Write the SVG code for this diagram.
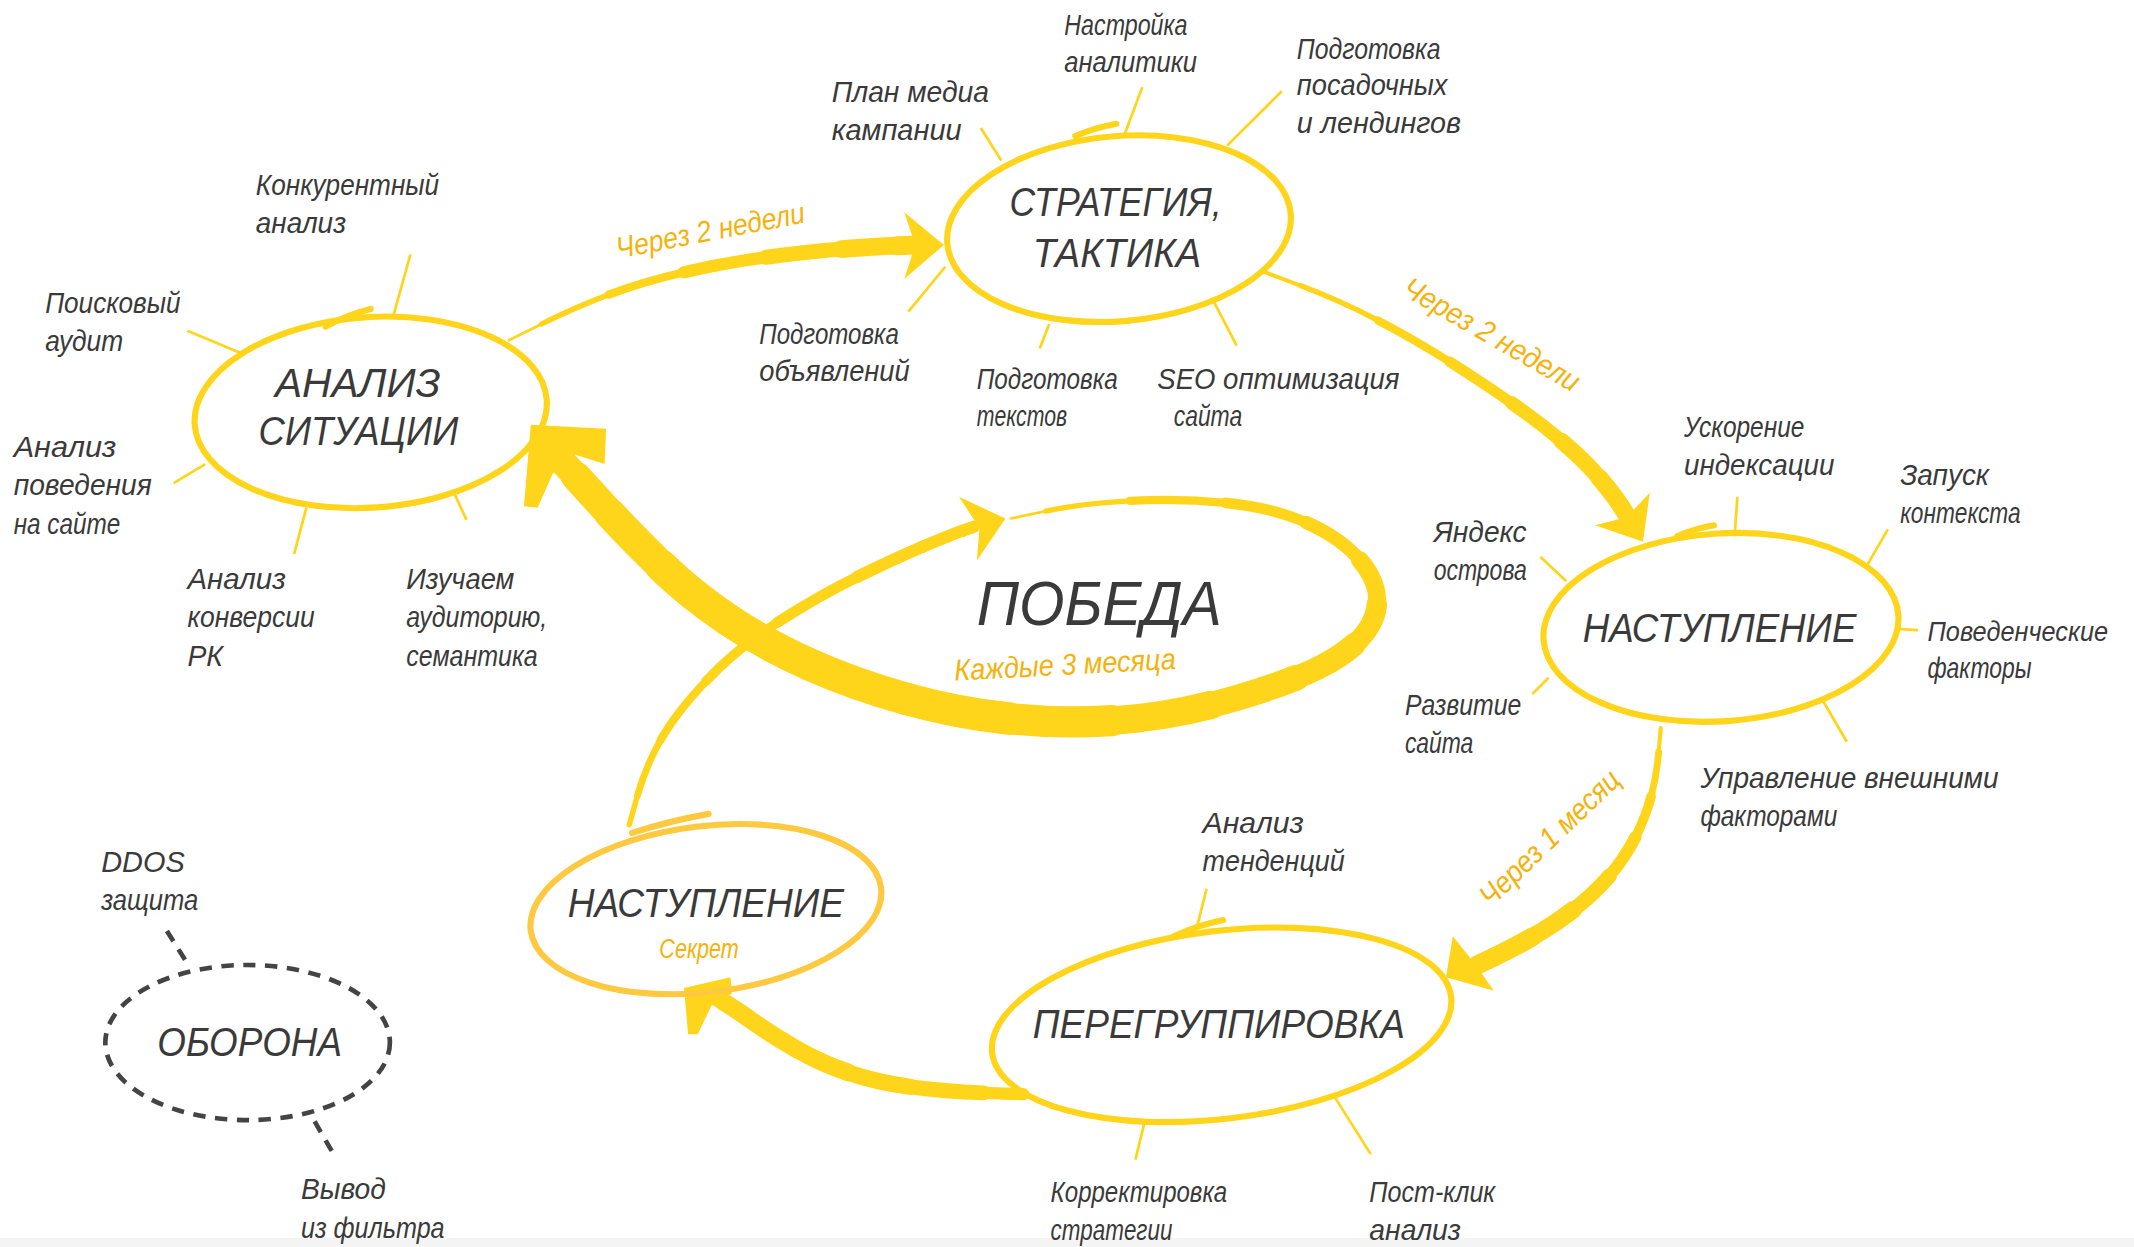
<svg xmlns="http://www.w3.org/2000/svg" width="2134" height="1247" viewBox="0 0 2134 1247">
<style>
.t{font-family:"Liberation Sans Narrow","Liberation Sans","DejaVu Sans Condensed",sans-serif;font-style:italic;fill:#3a3a3a}
.s{font-size:22px}
.h{font-size:30px}
.o{fill:#F6B20C}
.ring{fill:none;stroke:#FFD51C;stroke-width:4.5}
.sec{fill:none;stroke:#FDC940;stroke-width:4.5}
.tick{fill:none;stroke:#FFD51C;stroke-width:4.5;stroke-linecap:round}
.spoke{fill:none;stroke:#FFD51C;stroke-width:2}
.seg{fill:none;stroke:#FFD51C;stroke-linecap:round}
.head{fill:#FFD51C}
.dash{fill:none;stroke:#444;stroke-width:3.4;stroke-dasharray:9 7}
</style>
<rect width="2134" height="1247" fill="#ffffff"/>
<rect y="1238" width="2134" height="9" fill="#f4f4f4"/>
<g transform="scale(1.368,1.361)">
<g id="connectors">
  <!-- spokes -->
  <path class="spoke" d="M300,187 L287,234 M137,243 L175,259 M127,355 L150,341 M224,373 L215,407 M331,360 L341,382"/>
  <path class="spoke" d="M835,64 L822,99 M937,67 L897,107 M717,94 L732,118 M691,196 L664,229 M767,238 L760,256 M887,221 L904,254"/>
  <path class="spoke" d="M1270,365 L1268,394 M1380,389 L1365,415 M1126,409 L1145,427 M1386,462 L1402,463 M1120,510 L1132,498 M1332,514 L1350,545"/>
  <path class="spoke" d="M882,653 L875,681 M837,823 L830,852 M975,805 L1002,848"/>
  <path class="dash" d="M122,684 L137,708 M230,824 L245,850"/>

  <!-- arrow 1: analysis -> strategy -->
  <path class="seg" stroke-width="2" d="M372,250 L396,238"/>
  <path class="seg" stroke-width="4" d="M396,238 Q420,226 445,216.5"/>
  <path class="seg" stroke-width="6" d="M445,216.5 Q470,207 500,200"/>
  <path class="seg" stroke-width="9" d="M500,200 Q530,193 560,189"/>
  <path class="seg" stroke-width="11" d="M560,189 Q590,185 615,183"/>
  <path class="seg" stroke-width="13" d="M615,183 Q640,181 656,180.5"/>
  <path class="seg" stroke-width="14" d="M656,180.5 L672,180"/>
  <polygon class="head" points="690,180 661,156 669,180 661,205"/>
  <text class="t o s" transform="translate(452,190) rotate(-11)" textLength="140" lengthAdjust="spacingAndGlyphs">Через 2 недели</text>

  <!-- arrow 2: strategy -> offensive -->
  <path class="seg" stroke-width="3" d="M922,199 L951,210"/>
  <path class="seg" stroke-width="4" d="M951,210 Q980,221 1007.5,235.5"/>
  <path class="seg" stroke-width="6" d="M1007.5,235.5 Q1035,250 1060,266"/>
  <path class="seg" stroke-width="8" d="M1060,266 Q1085,282 1105,296"/>
  <path class="seg" stroke-width="10" d="M1105,296 Q1125,310 1141.5,324"/>
  <path class="seg" stroke-width="12" d="M1141.5,324 Q1158,338 1169,351"/>
  <path class="seg" stroke-width="13" d="M1169,351 Q1180,364 1185,372"/>
  <path class="seg" stroke-width="13" d="M1185,372 L1190,380"/>
  <polygon class="head" points="1201,398 1166,386 1189,380 1206,362"/>
  <text class="t o s" transform="translate(1024,216) rotate(30)" textLength="145" lengthAdjust="spacingAndGlyphs">Через 2 недели</text>

  <!-- arrow 3: offensive -> regroup -->
  <path class="seg" stroke-width="3" d="M1214,535 L1212.5,552.5"/>
  <path class="seg" stroke-width="5" d="M1212.5,552.5 Q1211,570 1207,585"/>
  <path class="seg" stroke-width="7" d="M1207,585 Q1203,600 1195.5,615"/>
  <path class="seg" stroke-width="9" d="M1195.5,615 Q1188,630 1176.5,643.5"/>
  <path class="seg" stroke-width="11" d="M1176.5,643.5 Q1165,657 1150,668.5"/>
  <path class="seg" stroke-width="13" d="M1150,668.5 Q1135,680 1120,688.5"/>
  <path class="seg" stroke-width="14" d="M1120,688.5 Q1105,697 1092.5,703"/>
  <path class="seg" stroke-width="14" d="M1092.5,703 L1080,709"/>
  <polygon class="head" points="1057,718 1062,688 1078,708 1092,728"/>
  <text class="t o s" transform="translate(1090,667) rotate(-44)" textLength="133" lengthAdjust="spacingAndGlyphs">Через 1 месяц</text>

  <!-- arrow 4: regroup -> secret offensive -->
  <path class="seg" stroke-width="9" d="M748,804 L719,803"/>
  <path class="seg" stroke-width="11" d="M719,803 Q690,802 665,798.5"/>
  <path class="seg" stroke-width="12" d="M665,798.5 Q640,795 620,788"/>
  <path class="seg" stroke-width="13" d="M620,788 Q600,781 582.5,771"/>
  <path class="seg" stroke-width="13" d="M582.5,771 Q565,761 551,751"/>
  <path class="seg" stroke-width="13" d="M551,751 Q537,741 528.5,736"/>
  <path class="seg" stroke-width="12" d="M528.5,736 L520,731"/>
  <polygon class="head" points="500,726 534,718 535,730 521,737 510,760 503,760"/>

  <!-- arrow 5: secret offensive -> victory -->
  <path class="seg" stroke-width="4" d="M460,606 L466,584.5"/>
  <path class="seg" stroke-width="5" d="M466,584.5 Q472,563 483,543.5"/>
  <path class="seg" stroke-width="6" d="M483,543.5 Q494,524 516,500.5"/>
  <path class="seg" stroke-width="7" d="M516,500.5 Q538,477 568,457.5"/>
  <path class="seg" stroke-width="8" d="M568,457.5 Q598,438 626.5,424"/>
  <path class="seg" stroke-width="9" d="M626.5,424 Q655,410 675,401.5"/>
  <path class="seg" stroke-width="9" d="M675,401.5 Q695,393 703.5,390"/>
  <path class="seg" stroke-width="9" d="M703.5,390 L712,387"/>
  <polygon class="head" points="735,381 701,365 716,388 714,412"/>

  <!-- victory spiral -> analysis -->
  <path class="seg" stroke-width="2" d="M739,381 L764.5,375.5"/>
  <path class="seg" stroke-width="4" d="M764.5,375.5 Q790,370 826,368"/>
  <path class="seg" stroke-width="6" d="M826,368 Q862,366 896,369.5"/>
  <path class="seg" stroke-width="8" d="M896,369.5 Q930,373 955,384"/>
  <path class="seg" stroke-width="10" d="M955,384 Q980,395 994,411.5"/>
  <path class="seg" stroke-width="13" d="M994,411.5 Q1008,428 1006.5,444"/>
  <path class="seg" stroke-width="15" d="M1006.5,444 Q1005,460 990,473.5"/>
  <path class="seg" stroke-width="17" d="M990,473.5 Q975,487 947.5,498"/>
  <path class="seg" stroke-width="19" d="M947.5,498 Q920,509 885,518"/>
  <path class="seg" stroke-width="21" d="M885,518 Q850,527 812.5,529.5"/>
  <path class="seg" stroke-width="23" d="M812.5,529.5 Q775,532 737.5,528"/>
  <path class="seg" stroke-width="24" d="M737.5,528 Q700,524 662.5,513.5"/>
  <path class="seg" stroke-width="24" d="M662.5,513.5 Q625,503 592.5,488.5"/>
  <path class="seg" stroke-width="24" d="M592.5,488.5 Q560,474 532.5,455.5"/>
  <path class="seg" stroke-width="24" d="M532.5,455.5 Q505,437 483.5,416"/>
  <path class="seg" stroke-width="23" d="M483.5,416 Q462,395 446,377.5"/>
  <path class="seg" stroke-width="22" d="M446,377.5 Q430,360 421,350"/>
  <path class="seg" stroke-width="20" d="M421,350 L412,340"/>
  <polygon class="head" points="388,312 443,315 442,341 420,334 404,348 393,373 383,372"/>
</g>

<g id="n-analiz">
  <ellipse class="ring" cx="271" cy="303" rx="129" ry="70" transform="rotate(-4 271 303)"/>
  <path class="tick" d="M238,240 Q254,231 271,227"/>
  <text class="t h" x="201" y="292" textLength="121" lengthAdjust="spacingAndGlyphs">АНАЛИЗ</text>
  <text class="t h" x="189" y="327" textLength="146" lengthAdjust="spacingAndGlyphs">СИТУАЦИИ</text>
  <text class="t s" x="187" y="143" textLength="134" lengthAdjust="spacingAndGlyphs">Конкурентный</text>
  <text class="t s" x="187" y="171" textLength="66" lengthAdjust="spacingAndGlyphs">анализ</text>
  <text class="t s" x="33" y="230" textLength="99" lengthAdjust="spacingAndGlyphs">Поисковый</text>
  <text class="t s" x="33" y="258" textLength="57" lengthAdjust="spacingAndGlyphs">аудит</text>
  <text class="t s" x="10" y="336" textLength="75" lengthAdjust="spacingAndGlyphs">Анализ</text>
  <text class="t s" x="10" y="364" textLength="101" lengthAdjust="spacingAndGlyphs">поведения</text>
  <text class="t s" x="10" y="392" textLength="78" lengthAdjust="spacingAndGlyphs">на сайте</text>
  <text class="t s" x="137" y="433" textLength="72" lengthAdjust="spacingAndGlyphs">Анализ</text>
  <text class="t s" x="137" y="461" textLength="93" lengthAdjust="spacingAndGlyphs">конверсии</text>
  <text class="t s" x="137" y="489" textLength="26" lengthAdjust="spacingAndGlyphs">РК</text>
  <text class="t s" x="297" y="433" textLength="79" lengthAdjust="spacingAndGlyphs">Изучаем</text>
  <text class="t s" x="297" y="461" textLength="103" lengthAdjust="spacingAndGlyphs">аудиторию,</text>
  <text class="t s" x="297" y="489" textLength="96" lengthAdjust="spacingAndGlyphs">семантика</text>
</g>

<g id="n-strategy">
  <ellipse class="ring" cx="818" cy="168" rx="126" ry="68" transform="rotate(-5 818 168)"/>
  <path class="tick" d="M786,100 Q800,94 816,91"/>
  <text class="t h" x="738" y="159" textLength="155" lengthAdjust="spacingAndGlyphs">СТРАТЕГИЯ,</text>
  <text class="t h" x="755" y="196" textLength="123" lengthAdjust="spacingAndGlyphs">ТАКТИКА</text>
  <text class="t s" x="608" y="75" textLength="115" lengthAdjust="spacingAndGlyphs">План медиа</text>
  <text class="t s" x="608" y="103" textLength="95" lengthAdjust="spacingAndGlyphs">кампании</text>
  <text class="t s" x="778" y="26" textLength="90" lengthAdjust="spacingAndGlyphs">Настройка</text>
  <text class="t s" x="778" y="53" textLength="97" lengthAdjust="spacingAndGlyphs">аналитики</text>
  <text class="t s" x="948" y="43" textLength="105" lengthAdjust="spacingAndGlyphs">Подготовка</text>
  <text class="t s" x="948" y="70" textLength="110" lengthAdjust="spacingAndGlyphs">посадочных</text>
  <text class="t s" x="948" y="98" textLength="120" lengthAdjust="spacingAndGlyphs">и лендингов</text>
  <text class="t s" x="555" y="253" textLength="102" lengthAdjust="spacingAndGlyphs">Подготовка</text>
  <text class="t s" x="555" y="280" textLength="110" lengthAdjust="spacingAndGlyphs">объявлений</text>
  <text class="t s" x="714" y="286" textLength="103" lengthAdjust="spacingAndGlyphs">Подготовка</text>
  <text class="t s" x="714" y="313" textLength="66" lengthAdjust="spacingAndGlyphs">текстов</text>
  <text class="t s" x="846" y="286" textLength="177" lengthAdjust="spacingAndGlyphs">SEO оптимизация</text>
  <text class="t s" x="858" y="313" textLength="50" lengthAdjust="spacingAndGlyphs">сайта</text>
</g>

<g id="n-nastuplenie">
  <ellipse class="ring" cx="1258" cy="461" rx="130" ry="69" transform="rotate(-4 1258 461)"/>
  <path class="tick" d="M1226,394 Q1240,388 1253,386"/>
  <text class="t h" x="1157" y="472" textLength="200" lengthAdjust="spacingAndGlyphs">НАСТУПЛЕНИЕ</text>
  <text class="t s" x="1231" y="321" textLength="88" lengthAdjust="spacingAndGlyphs">Ускорение</text>
  <text class="t s" x="1231" y="349" textLength="110" lengthAdjust="spacingAndGlyphs">индексации</text>
  <text class="t s" x="1389" y="356" textLength="65" lengthAdjust="spacingAndGlyphs">Запуск</text>
  <text class="t s" x="1389" y="384" textLength="88" lengthAdjust="spacingAndGlyphs">контекста</text>
  <text class="t s" x="1048" y="398" textLength="68" lengthAdjust="spacingAndGlyphs">Яндекс</text>
  <text class="t s" x="1048" y="426" textLength="68" lengthAdjust="spacingAndGlyphs">острова</text>
  <text class="t" x="1409" y="471" font-size="20" textLength="132" lengthAdjust="spacingAndGlyphs">Поведенческие</text>
  <text class="t s" x="1409" y="498" textLength="76" lengthAdjust="spacingAndGlyphs">факторы</text>
  <text class="t s" x="1027" y="525" textLength="85" lengthAdjust="spacingAndGlyphs">Развитие</text>
  <text class="t s" x="1027" y="553" textLength="50" lengthAdjust="spacingAndGlyphs">сайта</text>
  <text class="t s" x="1243" y="579" textLength="218" lengthAdjust="spacingAndGlyphs">Управление внешними</text>
  <text class="t s" x="1243" y="607" textLength="100" lengthAdjust="spacingAndGlyphs">факторами</text>
</g>

<g id="n-peregruppirovka">
  <ellipse class="ring" cx="893" cy="753" rx="169" ry="69" transform="rotate(-7 893 753)"/>
  <path class="tick" d="M858,688 Q875,680 894,676"/>
  <text class="t h" x="755" y="763" textLength="272" lengthAdjust="spacingAndGlyphs">ПЕРЕГРУППИРОВКА</text>
  <text class="t s" x="879" y="612" textLength="74" lengthAdjust="spacingAndGlyphs">Анализ</text>
  <text class="t s" x="879" y="640" textLength="104" lengthAdjust="spacingAndGlyphs">тенденций</text>
  <text class="t s" x="768" y="883" textLength="129" lengthAdjust="spacingAndGlyphs">Корректировка</text>
  <text class="t s" x="768" y="911" textLength="89" lengthAdjust="spacingAndGlyphs">стратегии</text>
  <text class="t s" x="1001" y="883" textLength="92" lengthAdjust="spacingAndGlyphs">Пост-клик</text>
  <text class="t s" x="1001" y="911" textLength="67" lengthAdjust="spacingAndGlyphs">анализ</text>
</g>

<g id="n-sekret">
  <ellipse class="sec" cx="516" cy="668" rx="129" ry="61" transform="rotate(-7 516 668)"/>
  <path class="sec" stroke-linecap="round" d="M462,612 Q490,603 518,598"/>
  <text class="t h" x="415" y="674" textLength="202" lengthAdjust="spacingAndGlyphs">НАСТУПЛЕНИЕ</text>
  <text class="t o" x="482" y="704" font-size="20" textLength="58" lengthAdjust="spacingAndGlyphs">Секрет</text>
</g>

<g id="n-pobeda">
  <text class="t" x="714" y="459" font-size="46" textLength="179" lengthAdjust="spacingAndGlyphs">ПОБЕДА</text>
  <text class="t o s" transform="translate(698,500) rotate(-3)" textLength="162" lengthAdjust="spacingAndGlyphs">Каждые 3 месяца</text>
</g>

<g id="n-oborona">
  <ellipse class="dash" cx="181" cy="766" rx="104" ry="57"/>
  <text class="t h" x="115" y="776" textLength="135" lengthAdjust="spacingAndGlyphs">ОБОРОНА</text>
  <text class="t s" x="74" y="641" textLength="61" lengthAdjust="spacingAndGlyphs">DDOS</text>
  <text class="t s" x="74" y="669" textLength="71" lengthAdjust="spacingAndGlyphs">защита</text>
  <text class="t s" x="220" y="881" textLength="62" lengthAdjust="spacingAndGlyphs">Вывод</text>
  <text class="t s" x="220" y="910" textLength="105" lengthAdjust="spacingAndGlyphs">из фильтра</text>
</g>
</g>
</svg>
